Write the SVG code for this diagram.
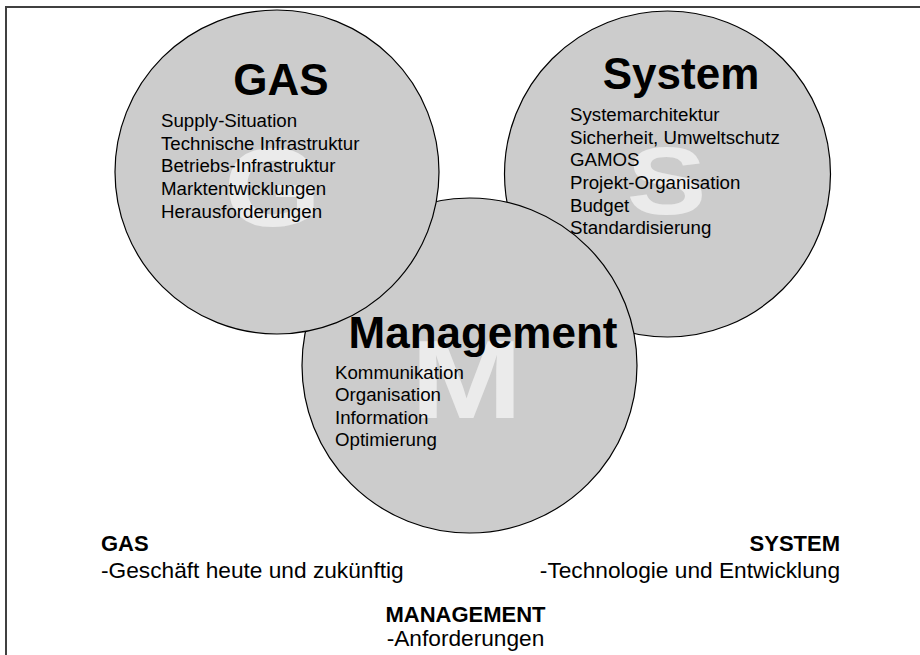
<svg xmlns="http://www.w3.org/2000/svg" width="920" height="655" viewBox="0 0 920 655">
  <style>
    .circle { fill: #cccccc; stroke: #000000; stroke-width: 1.2; }
    .mark { font-family: "Liberation Sans", Arial, sans-serif; font-weight: bold; fill: #ebebeb; text-anchor: middle; }
    .title { font-family: "Liberation Sans", Arial, sans-serif; font-weight: bold; font-size: 44px; fill: #000000; text-anchor: middle; }
    .item { font-family: "Liberation Sans", Arial, sans-serif; font-size: 18.7px; fill: #000000; }
    .foot { font-family: "Liberation Sans", Arial, sans-serif; font-size: 22.7px; fill: #000000; }
    .foot-b { font-family: "Liberation Sans", Arial, sans-serif; font-size: 22px; font-weight: bold; fill: #000000; }
    .frame { fill: none; stroke: #404040; stroke-width: 2; }
  </style>

  <rect x="0" y="0" width="920" height="655" fill="#ffffff"/>
  <!-- page frame (top and left edges) -->
  <path class="frame" d="M6,655 V7 H920"/>

  <!-- circles with watermark initials -->
  <g id="node-system">
    <circle class="circle" cx="667.5" cy="174" r="163"/>
    <text class="mark" font-size="96" transform="translate(666.5,214) scale(1.25,1)">S</text>
  </g>
  <g id="node-management">
    <circle class="circle" cx="469.5" cy="365.5" r="167.5"/>
    <text class="mark" font-size="112" transform="translate(466.5,418) scale(1.2,1)">M</text>
  </g>
  <g id="node-gas">
    <circle class="circle" cx="277" cy="172" r="162"/>
    <text class="mark" font-size="112" transform="translate(272.5,226) scale(1.12,1)">G</text>
  </g>

  <!-- circle labels -->
  <g id="labels-system">
    <text class="title" x="681" y="89">System</text>
    <text class="item" x="570" y="121">Systemarchitektur</text>
    <text class="item" x="570" y="143.5">Sicherheit, Umweltschutz</text>
    <text class="item" x="570" y="166">GAMOS</text>
    <text class="item" x="570" y="188.5">Projekt-Organisation</text>
    <text class="item" x="570" y="211.5">Budget</text>
    <text class="item" x="570" y="234">Standardisierung</text>
  </g>
  <g id="labels-gas">
    <text class="title" x="281" y="95">GAS</text>
    <text class="item" x="161" y="127">Supply-Situation</text>
    <text class="item" x="161" y="149.5">Technische Infrastruktur</text>
    <text class="item" x="161" y="172">Betriebs-Infrastruktur</text>
    <text class="item" x="161" y="195">Marktentwicklungen</text>
    <text class="item" x="161" y="218">Herausforderungen</text>
  </g>
  <g id="labels-management">
    <text class="title" x="483" y="348" font-size="45">Management</text>
    <text class="item" x="335" y="379">Kommunikation</text>
    <text class="item" x="335" y="401">Organisation</text>
    <text class="item" x="335" y="423.5">Information</text>
    <text class="item" x="335" y="446">Optimierung</text>
  </g>

  <!-- legend -->
  <g id="legend">
    <text class="foot-b" x="101" y="551">GAS</text>
    <text class="foot" x="101" y="578">-Geschäft heute und zukünftig</text>
    <text class="foot-b" x="840" y="551" text-anchor="end">SYSTEM</text>
    <text class="foot" x="840" y="578" text-anchor="end">-Technologie und Entwicklung</text>
    <text class="foot-b" x="465.5" y="622" text-anchor="middle">MANAGEMENT</text>
    <text class="foot" x="465.5" y="646" text-anchor="middle">-Anforderungen</text>
  </g>
</svg>
